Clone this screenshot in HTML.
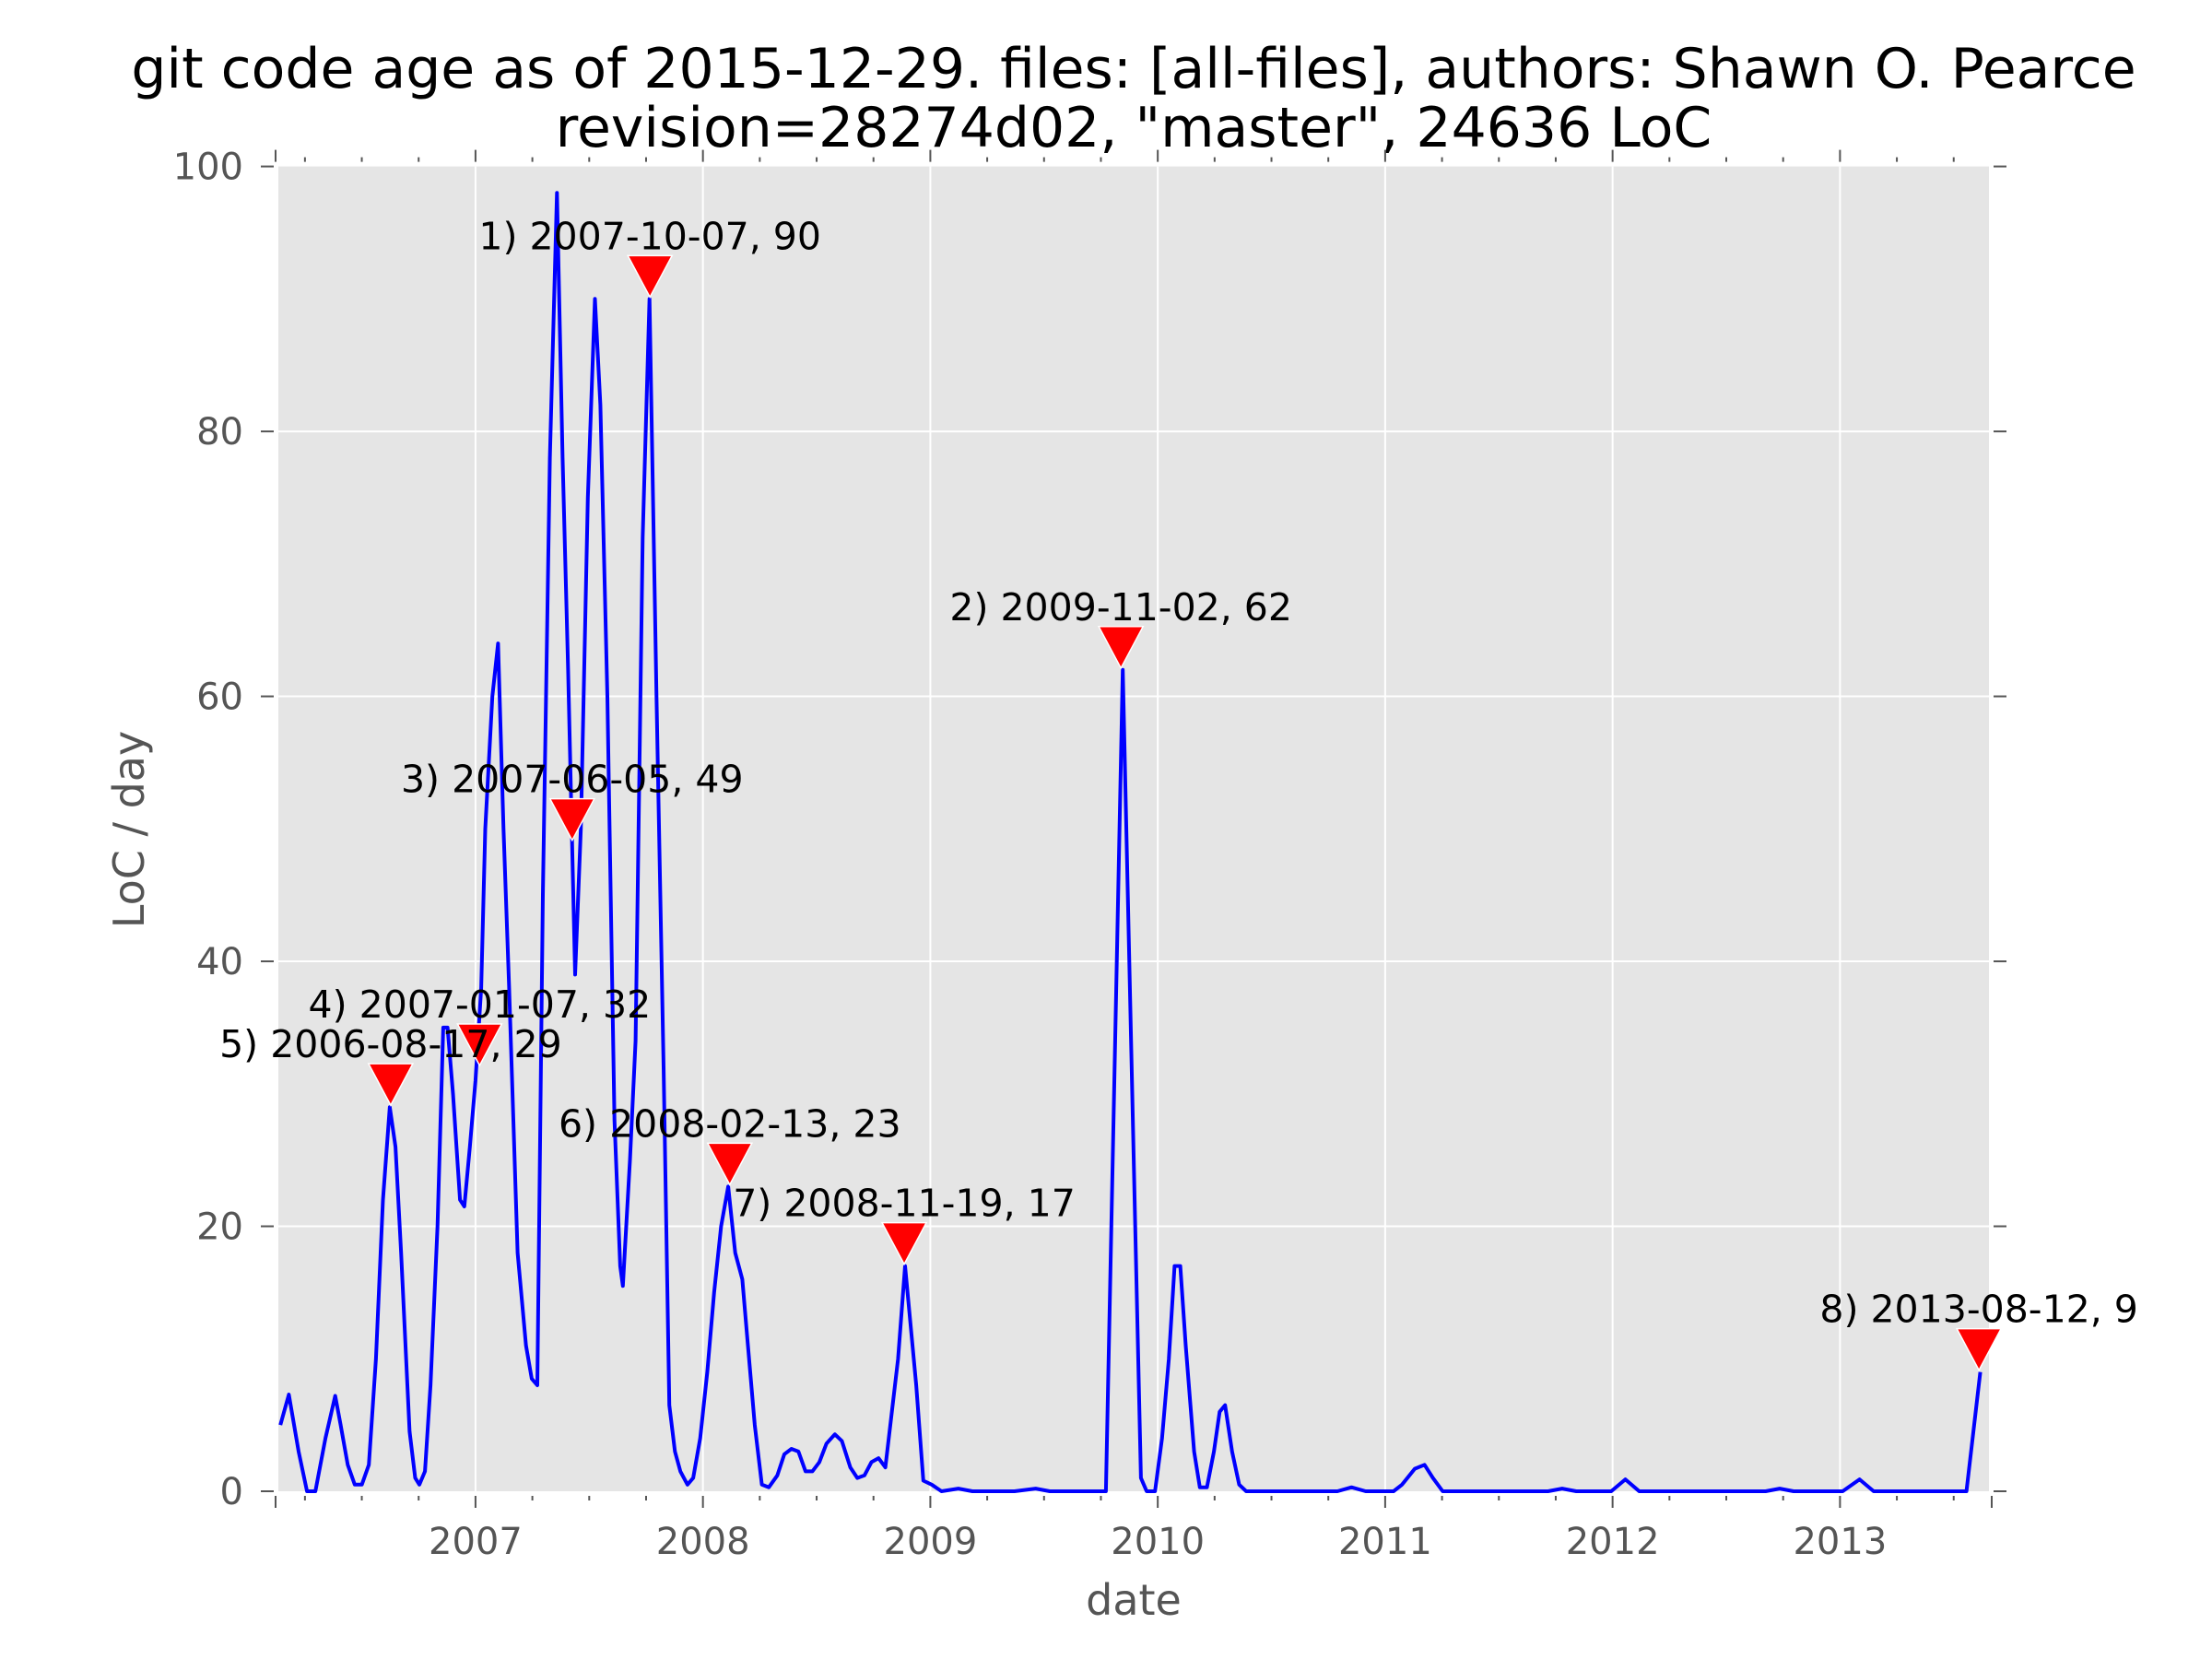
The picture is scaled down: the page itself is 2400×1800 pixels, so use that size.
<!DOCTYPE html>
<html><head><meta charset="utf-8"><style>
html,body{margin:0;padding:0;background:#fff}
svg{display:block}
text{font-family:"DejaVu Sans","Liberation Sans",sans-serif}
</style></head><body>
<svg id="chart" width="2400" height="1800" viewBox="0 0 2400 1800" xmlns="http://www.w3.org/2000/svg">
<rect width="2400" height="1800" fill="#fff"/>
<text x="1230" y="95" font-size="60" text-anchor="middle" fill="#000">git code age as of 2015-12-29. files: [all-files], authors: Shawn O. Pearce</text>
<text x="1230" y="159" font-size="60" text-anchor="middle" fill="#000">revision=28274d02, "master", 24636 LoC</text>
<rect x="302" y="180.6" width="1856" height="1437.4" fill="#e5e5e5"/>
<g id="grid"></g>
<g id="ticks"></g>
<g id="series"></g>
<g id="annots"></g>
<text x="1230" y="1752" font-size="46" text-anchor="middle" fill="#555">date</text>
<text x="0" y="0" font-size="46" text-anchor="middle" fill="#555" transform="translate(156,900) rotate(-90)">LoC / day</text>
</svg>
<script>
const dates = [2006.142,2006.179,2006.222,2006.259,2006.296,2006.340,2006.383,2006.407,2006.438,2006.469,2006.500,2006.531,2006.562,2006.593,2006.623,2006.648,2006.673,2006.710,2006.735,2006.753,2006.778,2006.802,2006.833,2006.858,2006.877,2006.901,2006.932,2006.951,2006.975,2007.000,2007.025,2007.043,2007.074,2007.099,2007.123,2007.148,2007.185,2007.222,2007.247,2007.272,2007.296,2007.327,2007.358,2007.383,2007.407,2007.438,2007.463,2007.494,2007.525,2007.549,2007.580,2007.611,2007.636,2007.648,2007.679,2007.704,2007.735,2007.765,2007.796,2007.827,2007.852,2007.877,2007.901,2007.932,2007.957,2007.988,2008.019,2008.049,2008.080,2008.111,2008.142,2008.173,2008.198,2008.228,2008.259,2008.290,2008.327,2008.358,2008.389,2008.420,2008.451,2008.481,2008.512,2008.543,2008.580,2008.611,2008.648,2008.679,2008.710,2008.741,2008.772,2008.802,2008.858,2008.889,2008.938,2008.969,2009.006,2009.049,2009.123,2009.185,2009.370,2009.463,2009.525,2009.772,2009.846,2009.901,2009.926,2009.951,2009.988,2010.019,2010.049,2010.074,2010.099,2010.123,2010.160,2010.185,2010.216,2010.247,2010.272,2010.296,2010.327,2010.358,2010.389,2010.790,2010.852,2010.914,2011.037,2011.074,2011.130,2011.173,2011.210,2011.253,2011.716,2011.778,2011.840,2011.994,2012.056,2012.117,2012.673,2012.735,2012.796,2013.012,2013.086,2013.148,2013.556,2013.617];
const locPerDay = [5,7.3,3,0,0,4,7.2,5,2,0.5,0.5,2,10,22,29,26,18,4.5,1,0.5,1.5,8,20,35,35,30,22,21.5,26,31,38,50,60,64,50,38,18,11,8.5,8,45,78,98,78,62,39,50,75,90,82,60,28,17,15.5,25,34,72,90,60,32,6.5,3,1.5,0.5,1,4,9,15,20,23,18,16,11,5,0.5,0.3,1.2,2.8,3.2,3,1.5,1.5,2.2,3.6,4.3,3.8,1.8,1.0,1.2,2.2,2.5,1.8,10,17,8,0.8,0.5,0,0.2,0,0,0.2,0,0,62,20,1,0,0,4,10,17,17,11,3,0.3,0.3,3,6,6.5,3,0.5,0,0,0.3,0,0,0.5,1.7,2,1,0,0,0.2,0,0,0.9,0,0,0.2,0,0,0.9,0,0,9];
const annotDates = [2007.767,2009.838,2007.425,2007.018,2006.627,2008.118,2008.885,2013.611];
const annotValues = [90,62,49,32,29,23,17,9];
const annotLabels = ["1) 2007-10-07, 90","2) 2009-11-02, 62","3) 2007-06-05, 49","4) 2007-01-07, 32","5) 2006-08-17, 29","6) 2008-02-13, 23","7) 2008-11-19, 17","8) 2013-08-12, 9"];
const yTicks = [0,20,40,60,80,100];
const xTickYears = [2007,2008,2009,2010,2011,2012,2013];

const X0=302,X1=2158,Y0=1618,Y1=180.6,XMIN=2006.133,XMAX=2013.655,YMIN=0,YMAX=100;
const sx=v=>X0+(v-XMIN)/(XMAX-XMIN)*(X1-X0);
const sy=v=>Y0-(v-YMIN)/(YMAX-YMIN)*(Y0-Y1);
const NS="http://www.w3.org/2000/svg";
function mk(tag,attrs,parent){const e=document.createElementNS(NS,tag);for(const k in attrs)e.setAttribute(k,attrs[k]);parent.appendChild(e);return e;}
const grid=document.getElementById('grid'),ticks=document.getElementById('ticks'),series=document.getElementById('series'),annots=document.getElementById('annots');

yTicks.forEach(t=>{
  const y=sy(t);
  if(t>0&&t<100){const g=mk('line',{x1:X0,x2:X1,y1:y,y2:y,stroke:'#fff','stroke-width':2},grid);
  
  }
  mk('line',{x1:X0-19,x2:X0-5,y1:y,y2:y,stroke:'#555','stroke-width':2},ticks);
  mk('line',{x1:X1+5,x2:X1+19,y1:y,y2:y,stroke:'#555','stroke-width':2},ticks);
  const l=mk('text',{x:264,y:y+14,'font-size':40,'text-anchor':'end',fill:'#555'},ticks);
  l.textContent=t;
  
  
});
xTickYears.forEach(yr=>{
  const x=sx(yr);
  const g=mk('line',{x1:x,x2:x,y1:Y1,y2:Y0,stroke:'#fff','stroke-width':2},grid);
  
  
  const l=mk('text',{x:x,y:1686,'font-size':40,'text-anchor':'middle',fill:'#555'},ticks);
  l.textContent=yr;
  
  
});
for(let q=2006.25;q<XMAX;q+=0.25){
  const x=sx(q);const major=Math.abs(q-Math.round(q))<1e-6;
  const len=major?13:5;
  mk('line',{x1:x,x2:x,y1:Y0+5,y2:Y0+5+len,stroke:'#555','stroke-width':2},ticks);
  mk('line',{x1:x,x2:x,y1:Y1-5,y2:Y1-5-len,stroke:'#555','stroke-width':2},ticks);
}
mk('line',{x1:X0-3,x2:X0-3,y1:Y0+5,y2:Y0+18,stroke:'#555','stroke-width':2},ticks);
mk('line',{x1:X0-3,x2:X0-3,y1:Y1-5,y2:Y1-18,stroke:'#555','stroke-width':2},ticks);
mk('line',{x1:X1+3,x2:X1+3,y1:Y0+5,y2:Y0+18,stroke:'#555','stroke-width':2},ticks);

const pts=dates.map((d,i)=>sx(d).toFixed(1)+','+sy(locPerDay[i]).toFixed(1)).join(' ');
const line=mk('polyline',{points:pts,fill:'none',stroke:'#0000ff','stroke-width':4,'stroke-linejoin':'round'},series);



annotDates.forEach((d,i)=>{
  const x=sx(annotDates[i]),y=sy(annotValues[i]);
  const m=mk('polygon',{points:`${x-24},${y-47} ${x+24},${y-47} ${x},${y-2}`,fill:'#ff0000',stroke:'#fff','stroke-width':1.5},annots);
  
  
  const t=mk('text',{x:x,y:y-54,'font-size':41,'text-anchor':'middle',fill:'#000'},annots);
  t.textContent=annotLabels[i];
  
  
});
</script>
</body></html>
